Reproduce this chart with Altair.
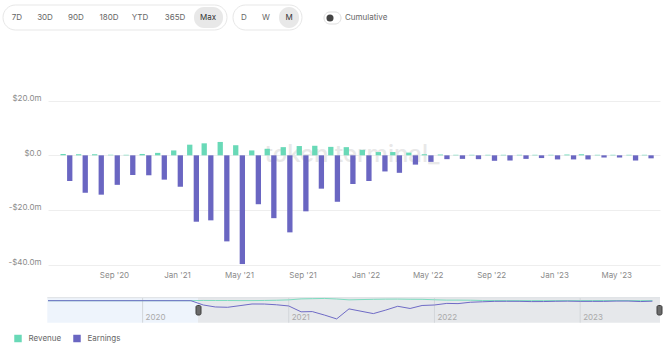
import altair as alt
import pandas as pd

# ---------------- data ----------------
months = [
    "2020-06-01", "2020-07-01", "2020-08-01", "2020-09-01", "2020-10-01", "2020-11-01", "2020-12-01",
    "2021-01-01", "2021-02-01", "2021-03-01", "2021-04-01", "2021-05-01", "2021-06-01",
    "2021-07-01", "2021-08-01", "2021-09-01", "2021-10-01", "2021-11-01", "2021-12-01",
    "2022-01-01", "2022-02-01", "2022-03-01", "2022-04-01", "2022-05-01", "2022-06-01",
    "2022-07-01", "2022-08-01", "2022-09-01", "2022-10-01", "2022-11-01", "2022-12-01",
    "2023-01-01", "2023-02-01", "2023-03-01", "2023-04-01", "2023-05-01", "2023-06-01",
    "2023-07-01",
]
revenue = [
    0.5, 0.4, 0.4, 0.2, 0.2, 0.5, 0.9,
    1.8, 3.9, 4.4, 4.9, 3.7, 1.8,
    2.4, 3.0, 3.4, 3.5, 3.1, 3.0,
    2.0, 1.2, 1.2, 1.0, 0.4, 0.3,
    0.2, 0.2, 0.2, 0.2, 0.2, 0.2,
    0.2, 0.3, 0.4, 0.2, 0.2, 0.2,
    0.2,
]
earnings = [
    -9.4, -13.7, -14.4, -10.8, -7.2, -7.3, -8.9,
    -11.5, -24.3, -23.8, -31.5, -39.8, -17.9,
    -23.0, -28.2, -20.5, -12.2, -17.0, -10.5,
    -9.4, -5.9, -6.4, -3.4, -2.4, -1.4,
    -1.3, -1.4, -2.0, -1.9, -1.3, -1.0,
    -1.5, -1.5, -1.5, -0.8, -0.8, -1.9,
    -1.1,
]
series_names = ["Revenue", "Earnings"]
x_tick_months = ["2020-09-01", "2021-01-01", "2021-05-01", "2021-09-01", "2022-01-01",
                 "2022-05-01", "2022-09-01", "2023-01-01", "2023-05-01"]
y_ticks = [-40, -20, 0, 20]
nav_years = ["2020-01-01", "2021-01-01", "2022-01-01", "2023-01-01"]
pre_launch_months = ["2019-05-01", "2020-05-01"]
pre_launch_values = [0.0, 0.0]
range_buttons = ["7D", "30D", "90D", "180D", "YTD", "365D", "Max"]
freq_buttons = ["D", "W", "M"]

# ---------------- styling / layout ----------------
GREEN = "#69d9b7"
PURPLE = "#6a66c2"
FONT = "Inter"
FS = 8
W = 612  # plot area width (abs x 48 .. 660)
H = 352


def dt(s):
    t = pd.Timestamp(s)
    return alt.DateTime(year=t.year, month=t.month, date=t.day, utc=True)


df = pd.DataFrame({
    "month": months * 2,
    "value": revenue + earnings,
    "series": ["Revenue"] * len(months) + ["Earnings"] * len(months),
})

main_x_scale = alt.Scale(type="utc", domain=[dt("2020-05-06"), dt("2023-07-15")], range=[0, W])
main_y_scale = alt.Scale(domain=[-40, 20], range=[264.6, 100.7], nice=False, zero=False)

x_axis = alt.Axis(
    values=[dt(m) for m in x_tick_months],
    labelExpr="utcFormat(datum.value, \"%b '%y\")",
    offset=-(H - 264.6), ticks=False, tickSize=0, domain=False, grid=False,
    labelPadding=7, labelFontSize=FS, labelColor="#8a8a8a", labelFont=FONT, title=None,
)
y_axis = alt.Axis(
    values=y_ticks,
    labelExpr="datum.value == 0 ? '$0.0' : (datum.value < 0 ? '-$' : '$') + format(abs(datum.value), '.1f') + 'm'",
    grid=True, gridColor="#eeeeee", gridWidth=1, domain=False, ticks=False, tickSize=0,
    labelPadding=7, labelFontSize=FS, labelColor="#8a8a8a", labelFont=FONT,
    labelBaseline="alphabetic", title=None,
)
color = alt.Color(
    "series:N",
    scale=alt.Scale(domain=series_names, range=[GREEN, PURPLE]),
    legend=alt.Legend(
        title=None, orient="none", legendX=-34, legendY=334.5, direction="horizontal",
        symbolType="square", symbolSize=56, symbolStrokeWidth=0, symbolOpacity=1,
        labelFontSize=FS, labelColor="#666666", labelFont=FONT, columnPadding=11, labelOffset=6.5,
    ),
)


def bars(name, offset):
    return alt.Chart(df).transform_filter(alt.datum.series == name).mark_bar(
        width=5.3, xOffset=offset
    ).encode(
        x=alt.X("month:T", scale=main_x_scale, axis=x_axis),
        y=alt.Y("value:Q", scale=main_y_scale, axis=y_axis, stack=None),
        color=color,
    )


main = alt.layer(bars("Revenue", -3.3), bars("Earnings", 3.3))

# ---------------- decorations ----------------
one = alt.Data(values=[{"k": 1}])


def box(x1, x2, y1, y2, fill, stroke=None, r=0, sw=1):
    props = dict(fill=fill, cornerRadius=r)
    if stroke:
        props.update(stroke=stroke, strokeWidth=sw)
    return alt.Chart(one).mark_rect(**props).encode(
        x=alt.value(x1), x2=alt.value(x2), y=alt.value(y1), y2=alt.value(y2)
    )


def rule(x1, x2, y1, y2, c):
    return alt.Chart(one).mark_rule(color=c, strokeWidth=1).encode(
        x=alt.value(x1), x2=alt.value(x2), y=alt.value(y1), y2=alt.value(y2)
    )


# top control bar (positions relative to plot origin at abs x=48)
ui_rng_x = [17, 45, 76, 109, 140, 175, 208]
ui_frq_x = [244, 266, 289]
btn_df = pd.DataFrame({
    "label": range_buttons + freq_buttons,
    "px": [v - 48 for v in ui_rng_x + ui_frq_x],
    "sel": [b in ("Max", "M") for b in range_buttons + freq_buttons],
})
ui = [
    box(-45, 179, 5, 30, "white", "#e7e7e7", 12.5),
    box(146, 175, 7, 28, "#e8e8e8", None, 10),
    box(185, 254, 5, 30, "white", "#e7e7e7", 12.5),
    box(231, 251, 7, 28, "#e8e8e8", None, 10),
    box(276, 293, 12, 24, "white", "#dddddd", 6),
    alt.Chart(one).mark_point(filled=True, size=50, color="#444444", opacity=1).encode(
        x=alt.value(282), y=alt.value(18)),
    alt.Chart(btn_df).mark_text(fontSize=FS, font=FONT, baseline="middle").encode(
        x=alt.X("px:Q", scale=None, axis=None), y=alt.value(17.5), text="label:N",
        color=alt.condition("datum.sel", alt.value("#333333"), alt.value("#666666"))),
    alt.Chart(one).mark_text(fontSize=FS, font=FONT, align="left", baseline="middle",
                             color="#666666", text="Cumulative").encode(
        x=alt.value(345 - 48), y=alt.value(18)),
]

watermark = alt.Chart(one).mark_text(
    text="token terminal_", fontSize=24, font=FONT, fontWeight=500, color="#e8e8e8",
    align="center", baseline="middle",
).encode(x=alt.value(352 - 48), y=alt.value(155))

# ---------------- navigator ----------------
nav_x_scale = alt.Scale(type="utc", domain=[dt("2019-05-09"), dt("2023-07-20")], range=[0, W])
nav_y_scale = alt.Scale(domain=[-45, 5], range=[321.3, 298.4], nice=False, zero=False)

nav_df = pd.DataFrame({
    "month": pre_launch_months + months + pre_launch_months + months,
    "value": pre_launch_values + revenue + pre_launch_values + earnings,
    "series": ["Revenue"] * (len(months) + 2) + ["Earnings"] * (len(months) + 2),
})
years_df = pd.DataFrame({"yr": nav_years, "label": [y[:4] for y in nav_years]})

nav_bg = [
    box(-0.7, 150, 297.7, 322.7, "#eef4fc"),
    box(150, W, 297.7, 322.7, "#e6e8eb"),
    rule(-0.7, W, 297.7, 297.7, "#dcdfe3"),
]


def nav_line(name, c):
    return alt.Chart(nav_df).transform_filter(alt.datum.series == name).mark_line(
        strokeWidth=1, color=c, clip=True
    ).encode(
        x=alt.X("month:T", scale=nav_x_scale, axis=None),
        y=alt.Y("value:Q", scale=nav_y_scale, axis=None),
    )


nav = alt.layer(
    alt.Chart(years_df).mark_rule(color="#d3d6da", strokeWidth=1).encode(
        x=alt.X("yr:T", scale=nav_x_scale, axis=None), y=alt.value(298), y2=alt.value(322.7)),
    nav_line("Revenue", "#7ddcbf"),
    nav_line("Earnings", "#6f6bc6"),
    alt.Chart(years_df).mark_text(fontSize=FS, font=FONT, color="#aaaaaa", align="left",
                                  baseline="middle", dx=3).encode(
        x=alt.X("yr:T", scale=nav_x_scale, axis=None), y=alt.value(318), text="label:N"),
)

handles = [
    box(148, 153, 305.5, 315, "#6b6b6b", "#3f3f3f", 1.5),
    box(609, 614, 305.5, 315, "#6b6b6b", "#3f3f3f", 1.5),
]

chart = alt.layer(
    *ui, watermark, main, *nav_bg, nav, *handles
).resolve_scale(
    x="independent", y="independent"
).properties(
    width=W, height=H,
    autosize=alt.AutoSizeParams(type="none"),
    padding={"left": 48, "top": 0, "right": 11, "bottom": 0},
    background="white",
).configure_view(stroke=None)

chart.save("out.html", embed_options={"renderer": "svg", "actions": False})
